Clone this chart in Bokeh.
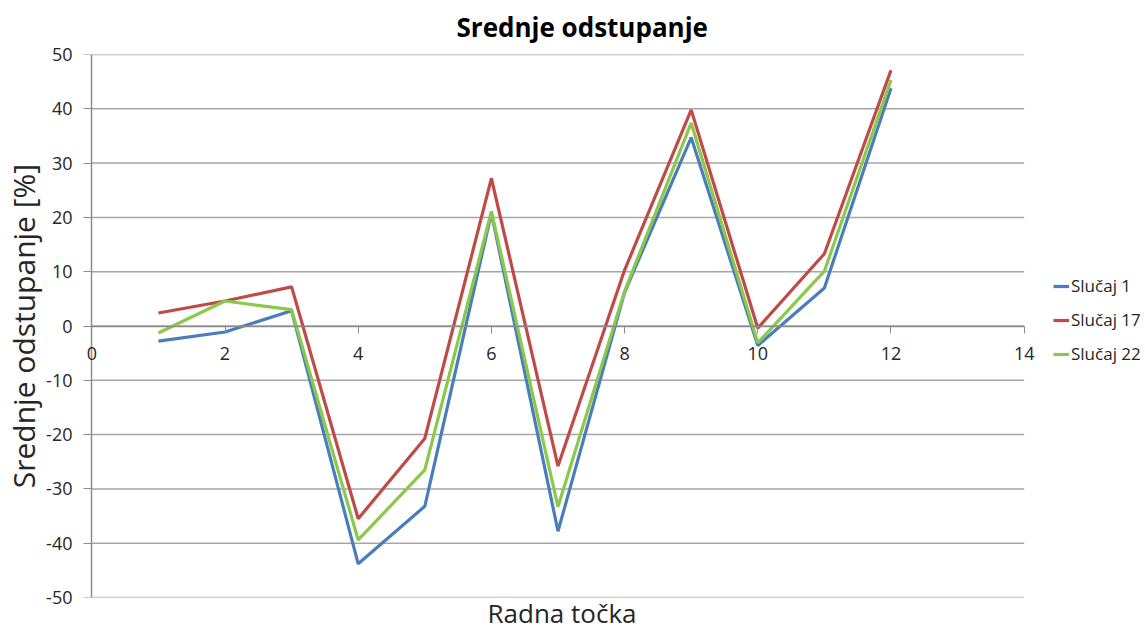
from bokeh.plotting import figure
from bokeh.models import (Legend, LegendItem, FixedTicker, Range1d, Label, Title,
                          LinearAxis)
from bokeh.embed import file_html
from bokeh.resources import INLINE

tocka = [1, 2, 3, 4, 5, 6, 7, 8, 9, 10, 11, 12]
slucaj_1 = [-2.8, -1.1, 2.8, -43.8, -33.2, 20.8, -37.8, 6.2, 34.7, -3.6, 7.0, 43.8]
slucaj_17 = [2.4, 4.6, 7.2, -35.5, -20.7, 27.2, -25.8, 10.3, 39.8, -0.4, 13.3, 47.1]
slucaj_22 = [-1.3, 4.6, 3.0, -39.4, -26.5, 21.1, -33.3, 6.4, 37.4, -3.1, 10.1, 45.3]
y_ticks = [-50, -40, -30, -20, -10, 0, 10, 20, 30, 40, 50]
x_ticks = [0, 2, 4, 6, 8, 10, 12, 14]

FONT = "Open Sans"
TXT = "#262626"
AX = "#8c8c8c"

p = figure(frame_width=955, frame_height=543, output_backend="svg", toolbar_location=None,
           x_range=Range1d(-0.17, 14.17), y_range=Range1d(-50, 50),
           min_border_left=79, min_border_top=54, min_border_bottom=33, min_border_right=111)
p.outline_line_color = None
p.background_fill_color = "white"

p.title.text = ""
p.add_layout(Title(text="Srednje odstupanje", align="left", offset=376, standoff=16,
                   vertical_align="top", text_font=FONT, text_font_size="26px",
                   text_font_style="bold", text_color="black"), "above")
p.add_layout(Title(text="Radna točka", align="left", offset=407, standoff=-8,
                   vertical_align="middle", text_font=FONT, text_font_size="26px",
                   text_font_style="normal", text_color=TXT), "below")

# horizontal grid lines from the y ticks, spanning 0..14
p.segment(x0=[x_ticks[0]] * len(y_ticks), x1=[x_ticks[-1]] * len(y_ticks),
          y0=y_ticks, y1=y_ticks, line_color="#a6a6a6", line_width=1.5)
p.xgrid.grid_line_color = None
p.ygrid.grid_line_color = None

# x axis crossing at y = 0
p.xaxis.fixed_location = 0
p.xaxis.bounds = (0, 14)
p.xaxis.ticker = FixedTicker(ticks=x_ticks)
p.xaxis.minor_tick_line_color = None
p.xaxis.axis_line_color = AX
p.xaxis.axis_line_width = 1.5
p.xaxis.major_tick_line_color = AX
p.xaxis.major_tick_in = 0
p.xaxis.major_tick_out = 7
p.xaxis.major_label_text_font_size = "0px"
p.xaxis.major_label_text_alpha = 0
p.xaxis.major_label_standoff = 0

# y axis labels (left panel)
p.yaxis.ticker = FixedTicker(ticks=y_ticks)
p.yaxis.major_label_overrides = {v: str(v) for v in y_ticks}
p.yaxis.minor_tick_line_color = None
p.yaxis.axis_line_color = None
p.yaxis.major_tick_line_color = None
p.yaxis.major_tick_in = 0
p.yaxis.major_tick_out = 0
p.yaxis.major_label_text_font = FONT
p.yaxis.major_label_text_font_size = "18px"
p.yaxis.major_label_text_color = TXT
p.yaxis.major_label_standoff = 8
p.yaxis.axis_label = "Srednje odstupanje [%]"
p.yaxis.axis_label_text_font = FONT
p.yaxis.axis_label_text_font_size = "30px"
p.yaxis.axis_label_text_font_style = "normal"
p.yaxis.axis_label_text_color = TXT
p.yaxis.axis_label_standoff = -1

# visible y axis line with its ticks at x = 0
yline = LinearAxis(fixed_location=0, ticker=FixedTicker(ticks=y_ticks),
                   axis_line_color=AX, axis_line_width=1.5, major_tick_line_color=AX,
                   major_tick_in=0, major_tick_out=8, minor_tick_line_color=None,
                   major_label_text_font_size="0px", major_label_text_alpha=0)
p.add_layout(yline, "left")

# x tick labels under the zero line
for xv in x_ticks:
    p.add_layout(Label(x=xv, y=0, y_offset=-27, text=str(xv), text_align="center",
                       text_baseline="middle", text_font=FONT, text_font_size="18px",
                       text_color=TXT))

r1 = p.line(tocka, slucaj_1, line_color="#4A7EBB", line_width=3.2)
r17 = p.line(tocka, slucaj_17, line_color="#BE4B48", line_width=3.2)
r22 = p.line(tocka, slucaj_22, line_color="#8CC84B", line_width=3.2)

legend = Legend(items=[LegendItem(label="Slučaj 1", renderers=[r1]),
                       LegendItem(label="Slučaj 17", renderers=[r17]),
                       LegendItem(label="Slučaj 22", renderers=[r22])],
                location=(18, 232), border_line_color=None, background_fill_alpha=0,
                label_text_font=FONT, label_text_font_size="17px", label_text_color=TXT,
                glyph_width=16, glyph_height=16, spacing=11, label_standoff=2,
                padding=0, margin=0)
p.add_layout(legend, "right")

open("out.html", "w").write(file_html(p, INLINE))
